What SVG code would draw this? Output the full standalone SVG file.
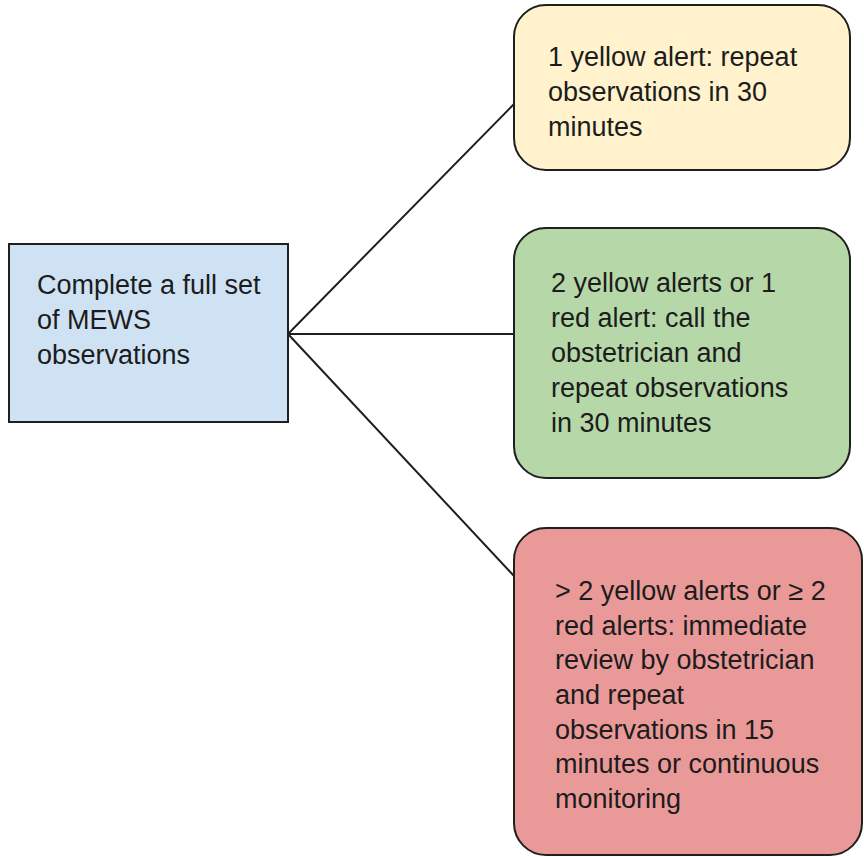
<svg xmlns="http://www.w3.org/2000/svg" width="864" height="857" viewBox="0 0 864 857">
<style>
.box{stroke:#1f1f1f;stroke-width:2}
.t{font-family:"Liberation Sans",Arial,sans-serif;font-size:27px;fill:#1c1c1c}
.c{stroke:#1f1f1f;stroke-width:2;fill:none}
</style>
<rect width="864" height="857" fill="#ffffff"/>
<g id="connectors">
<line class="c" x1="288" y1="334" x2="514" y2="104"/>
<line class="c" x1="288" y1="334" x2="514" y2="334"/>
<line class="c" x1="288" y1="334" x2="514" y2="576"/>
</g>
<g id="start">
<rect class="box" x="9" y="244" width="279" height="178" fill="#cfe2f3"/>
<text class="t" x="37"><tspan x="37" y="294">Complete a full set</tspan><tspan x="37" y="329">of MEWS</tspan><tspan x="37" y="364">observations</tspan></text>
</g>
<g id="yellow">
<rect class="box" x="514" y="5" width="336" height="165" rx="32" fill="#fff2cc"/>
<text class="t"><tspan x="548" y="66">1 yellow alert: repeat</tspan><tspan x="548" y="101">observations in 30</tspan><tspan x="548" y="136">minutes</tspan></text>
</g>
<g id="green">
<rect class="box" x="514" y="228" width="336" height="250" rx="32" fill="#b6d7a8"/>
<text class="t"><tspan x="551" y="292">2 yellow alerts or 1</tspan><tspan x="551" y="327">red alert: call the</tspan><tspan x="551" y="362">obstetrician and</tspan><tspan x="551" y="397">repeat observations</tspan><tspan x="551" y="432">in 30 minutes</tspan></text>
</g>
<g id="red">
<rect class="box" x="514" y="528" width="348" height="327" rx="32" fill="#ea9999"/>
<text class="t"><tspan x="555" y="600">&gt; 2 yellow alerts or ≥ 2</tspan><tspan x="555" y="635">red alerts: immediate</tspan><tspan x="555" y="669">review by obstetrician</tspan><tspan x="555" y="704">and repeat</tspan><tspan x="555" y="739">observations in 15</tspan><tspan x="555" y="773">minutes or continuous</tspan><tspan x="555" y="808">monitoring</tspan></text>
</g>
</svg>
